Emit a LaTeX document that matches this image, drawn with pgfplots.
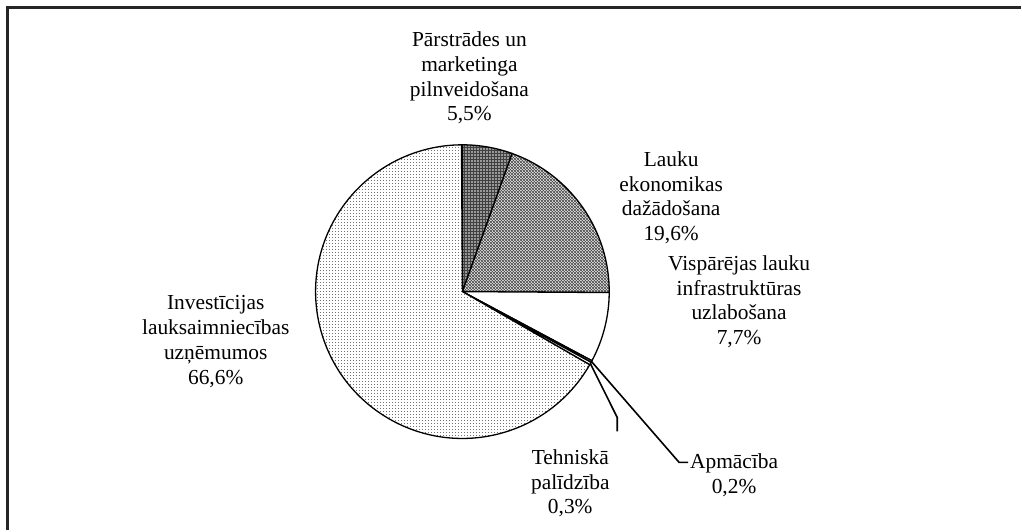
\documentclass[border=0pt]{standalone}
\usepackage{pgfplots}
\pgfplotsset{compat=1.18}
\usepackage{pgfplotstable}
\usepackage{fontspec}
\setmainfont{Liberation Serif}
\usetikzlibrary{patterns.meta}

\tikzdeclarepattern{
  name=finedots, type=uncolored,
  bounding box={(0,0) and (3.4bp,3.4bp)},
  tile size={(3.4bp,3.4bp)},
  code={\fill (1.7bp,1.7bp) circle (0.5bp);}
}
\tikzdeclarepattern{
  name=finecross, type=uncolored,
  bounding box={(0,0) and (3.4bp,3.4bp)},
  tile size={(3.4bp,3.4bp)},
  code={\draw[line width=0.75bp] (0,0)--(3.4bp,3.4bp) (0,3.4bp)--(3.4bp,0);}
}
\tikzdeclarepattern{
  name=finegrid, type=uncolored,
  bounding box={(0,0) and (3bp,3bp)},
  tile size={(3bp,3bp)},
  code={\fill (0,0) rectangle (3bp,0.9bp); \fill (0,0) rectangle (0.9bp,3bp);}
}

\pgfplotstableread{
value
5.5
19.6
7.7
0.2
0.3
66.6
}\piedata

\begin{document}
\begin{tikzpicture}
\pgfplotstablegetelem{0}{value}\of\piedata\let\vA\pgfplotsretval
\pgfplotstablegetelem{1}{value}\of\piedata\let\vB\pgfplotsretval
\pgfplotstablegetelem{2}{value}\of\piedata\let\vC\pgfplotsretval
\pgfplotstablegetelem{3}{value}\of\piedata\let\vD\pgfplotsretval
\pgfplotstablegetelem{4}{value}\of\piedata\let\vE\pgfplotsretval
\pgfplotstablegetelem{5}{value}\of\piedata\let\vF\pgfplotsretval
\pgfmathsetmacro\aA{90}
\pgfmathsetmacro\aB{\aA-3.6*\vA}
\pgfmathsetmacro\aC{\aB-3.6*\vB}
\pgfmathsetmacro\aD{\aC-3.6*\vC}
\pgfmathsetmacro\aE{\aD-3.6*\vD}
\pgfmathsetmacro\aF{\aE-3.6*\vE}
\pgfmathsetmacro\aG{\aF-3.6*\vF}
\pgfmathsetmacro\mD{(\aD+\aE)/2}
\pgfmathsetmacro\mE{(\aE+\aF)/2}
\begin{axis}[scale only axis, width=1022bp, height=531bp,
  xmin=0, xmax=1022, ymin=0, ymax=531, hide axis, clip=false]
\path (axis cs:0,0) rectangle (axis cs:1022,531);
% frame
\draw[line width=2.6bp, black!85] (axis cs:7.5,0) -- (axis cs:7.5,523.5) -- (axis cs:1022,523.5);
% slices
\begin{scope}[line width=1.3bp, draw=black]
\path[draw, preaction={fill=black!40}, pattern={finegrid}, pattern color=black!75]
  (axis cs:463,239) -- ++(\aA:147bp) arc[start angle=\aA, end angle=\aB, radius=147bp] -- cycle;
\path[draw, preaction={fill=white}, pattern={finecross}, pattern color=black!70]
  (axis cs:463,239) -- ++(\aB:147bp) arc[start angle=\aB, end angle=\aC, radius=147bp] -- cycle;
\path[draw, fill=white]
  (axis cs:463,239) -- ++(\aC:147bp) arc[start angle=\aC, end angle=\aD, radius=147bp] -- cycle;
\path[draw, fill=white]
  (axis cs:463,239) -- ++(\aD:147bp) arc[start angle=\aD, end angle=\aE, radius=147bp] -- cycle;
\path[draw, fill=white]
  (axis cs:463,239) -- ++(\aE:147bp) arc[start angle=\aE, end angle=\aF, radius=147bp] -- cycle;
\path[draw, preaction={fill=white}, pattern={finedots}, pattern color=black!75]
  (axis cs:463,239) -- ++(\aF:147bp) arc[start angle=\aF, end angle=\aG, radius=147bp] -- cycle;
\end{scope}
% leader lines
\draw[line width=1.6bp] (axis cs:463,239) ++(\mE:147bp) -- (axis cs:618,113) -- (axis cs:618,99);
\draw[line width=1.6bp] (axis cs:463,239) ++(\mD:147bp) -- (axis cs:680,68) -- (axis cs:689,68);
% labels
\begin{scope}[every node/.style={align=center, font=\fontsize{21.5}{24.8}\selectfont, inner sep=0pt}]
\node at (axis cs:470,453) {Pārstrādes un\\marketinga\\pilnveidošana\\5,5\%};
\node at (axis cs:672,333) {Lauku\\ekonomikas\\dažādošana\\19,6\%};
\node at (axis cs:740,229) {Vispārējas lauku\\infrastruktūras\\uzlabošana\\7,7\%};
\node at (axis cs:216,189) {Investīcijas\\lauksaimniecības\\uzņēmumos\\66,6\%};
\node at (axis cs:571,47) {Tehniskā\\palīdzība\\0,3\%};
\node at (axis cs:735,55) {Apmācība\\0,2\%};
\end{scope}
\end{axis}
\end{tikzpicture}
\end{document}
